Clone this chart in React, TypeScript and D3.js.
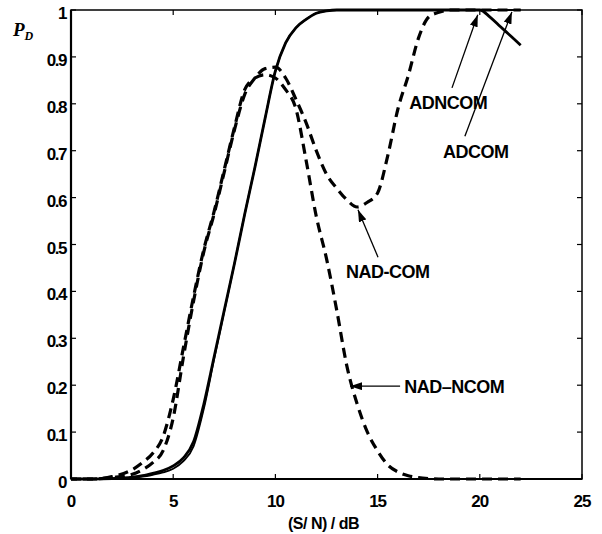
import React from "react";
import * as d3 from "d3";

// S/N in dB
const snr = [0, 1, 2, 3, 3.5, 4, 4.5, 5, 5.5, 6, 6.5, 7, 7.5, 8, 8.5, 9, 9.5, 10, 10.5, 11, 11.5, 12, 12.5, 13, 13.5, 14, 14.5, 15, 15.5, 16, 16.5, 17, 17.5, 18, 18.5, 19, 19.5, 20, 20.5, 21, 21.5, 22];

const adNcom = [0, 0, 0.001, 0.004, 0.007, 0.012, 0.018, 0.028, 0.045, 0.08, 0.16, 0.26, 0.36, 0.46, 0.565, 0.665, 0.77, 0.87, 0.93, 0.962, 0.98, 0.993, 0.998, 1, 1, 1, 1, 1, 1, 1, 1, 1, 1, 1, 1, 1, 1, 1, 0.985, 0.965, 0.945, 0.925];
const adCom = [0, 0, 0.001, 0.003, 0.005, 0.009, 0.014, 0.022, 0.038, 0.07, 0.15, 0.255, 0.358, 0.46, 0.565, 0.665, 0.77, 0.87, 0.93, 0.962, 0.98, 0.993, 0.998, 1, 1, 1, 1, 1, 1, 1, 1, 1, 1, 1, 1, 1, 1, 1, 1, 1, 1, 1];
const nadNcom = [0, 0, 0.005, 0.02, 0.035, 0.055, 0.09, 0.17, 0.28, 0.39, 0.49, 0.57, 0.66, 0.75, 0.83, 0.855, 0.862, 0.855, 0.83, 0.79, 0.68, 0.56, 0.47, 0.36, 0.24, 0.16, 0.1, 0.06, 0.03, 0.015, 0.007, 0.003, 0.001, 0, 0, 0, 0, 0, 0, 0, 0, 0];
const nadCom = [0, 0, 0.003, 0.01, 0.02, 0.035, 0.06, 0.13, 0.26, 0.38, 0.485, 0.565, 0.655, 0.745, 0.82, 0.855, 0.875, 0.878, 0.855, 0.81, 0.76, 0.7, 0.65, 0.62, 0.595, 0.58, 0.59, 0.61, 0.69, 0.79, 0.86, 0.94, 0.985, 0.995, 1, 1, 1, 1, 1, 1, 1, 1];

const xTicks = [0, 5, 10, 15, 20, 25];
const yTicks = [0, 0.1, 0.2, 0.3, 0.4, 0.5, 0.6, 0.7, 0.8, 0.9, 1];

// annotation text and arrows, in data units: [label, textX, textY, tailX, tailY, headX, headY]
const notes: [string, number, number, number, number, number, number][] = [
  ["ADNCOM", 16.55, 0.788, 18.64, 0.834, 19.9, 0.99],
  ["ADCOM", 18.2, 0.684, 19.27, 0.731, 21.57, 0.996],
  ["NAD-COM", 13.45, 0.428, 15.02, 0.473, 14.04, 0.574],
  ["NAD\u2013NCOM", 16.3, 0.183, 16.1, 0.198, 13.65, 0.198],
];

const W = 602;
const H = 534;
const left = 71;
const right = 582;
const top = 10;
const bottom = 479;

export default function App() {
  const x = d3.scaleLinear().domain([0, 25]).range([left, right]);
  const y = d3.scaleLinear().domain([0, 1]).range([bottom, top]);

  const line = d3
    .line<number>()
    .x((d, i) => x(snr[i]))
    .y((d) => y(d))
    .curve(d3.curveMonotoneX);

  const font = "'Liberation Sans', Arial, sans-serif";

  return (
    <svg
      width={W}
      height={H}
      style={{ position: "absolute", left: 0, top: 0, background: "#fff" }}
    >
      <defs>
        <marker
          id="arr"
          viewBox="0 0 12 8"
          refX="12"
          refY="4"
          markerWidth="12"
          markerHeight="8"
          markerUnits="userSpaceOnUse"
          orient="auto"
        >
          <path d="M0,0 L12,4 L0,8 z" fill="#000" />
        </marker>
      </defs>

      {/* curves */}
      <path d={line(adCom) ?? ""} fill="none" stroke="#000" strokeWidth={1.8} />
      <path d={line(adNcom) ?? ""} fill="none" stroke="#000" strokeWidth={2.8} />
      <path
        d={line(nadNcom) ?? ""}
        fill="none"
        stroke="#000"
        strokeWidth={3.2}
        strokeDasharray="10 6"
      />
      <path
        d={line(nadCom) ?? ""}
        fill="none"
        stroke="#000"
        strokeWidth={3.2}
        strokeDasharray="10 6"
        strokeDashoffset={4}
      />

      {/* frame */}
      <rect
        x={left}
        y={top}
        width={right - left}
        height={bottom - top}
        fill="none"
        stroke="#000"
        strokeWidth={1.5}
      />
      <line x1={left} y1={top} x2={left} y2={bottom} stroke="#000" strokeWidth={2.2} />
      <line x1={left} y1={bottom} x2={right} y2={bottom} stroke="#000" strokeWidth={2.2} />

      {/* ticks */}
      {xTicks.map((t) => (
        <g key={"x" + t}>
          <line x1={x(t)} x2={x(t)} y1={bottom} y2={bottom - 5} stroke="#000" strokeWidth={1.2} />
          <line x1={x(t)} x2={x(t)} y1={top} y2={top + 5} stroke="#000" strokeWidth={1.2} />
          <text
            x={x(t)}
            y={bottom + 28}
            textAnchor="middle"
            fontFamily={font}
            fontWeight="bold"
            fontSize={17}
            letterSpacing={-1}
          >
            {t}
          </text>
        </g>
      ))}
      {yTicks.map((t) => (
        <g key={"y" + t}>
          <line x1={left} x2={left + 5} y1={y(t)} y2={y(t)} stroke="#000" strokeWidth={1.2} />
          <line x1={right} x2={right - 5} y1={y(t)} y2={y(t)} stroke="#000" strokeWidth={1.2} />
          <text
            x={left - 5}
            y={y(t) + 9}
            textAnchor="end"
            fontFamily={font}
            fontWeight="bold"
            fontSize={17}
            letterSpacing={-1.5}
          >
            {t === 0 || t === 1 ? String(t) : t.toFixed(1)}
          </text>
        </g>
      ))}

      {/* axis titles */}
      <text
        x={(left + right) / 2 - 3}
        y={529}
        textAnchor="middle"
        fontFamily={font}
        fontWeight="bold"
        fontSize={16}
        letterSpacing={-0.5}
        style={{ whiteSpace: "pre" }}
      >
        (S/ N) / dB
      </text>
      <text
        x={13}
        y={36}
        fontFamily="'Liberation Serif', 'Times New Roman', serif"
        fontStyle="italic"
        fontWeight="bold"
        fontSize={19}
      >
        P
        <tspan fontSize={12} dy={4}>
          D
        </tspan>
      </text>

      {/* annotations */}
      {notes.map(([label, tx, ty, ax, ay, hx, hy]) => (
        <g key={label}>
          <line
            x1={x(ax)}
            y1={y(ay)}
            x2={x(hx)}
            y2={y(hy)}
            stroke="#000"
            strokeWidth={1.3}
            markerEnd="url(#arr)"
          />
          <text
            x={x(tx)}
            y={y(ty)}
            fontFamily={font}
            fontWeight="bold"
            fontSize={18}
            letterSpacing={-0.5}
          >
            {label}
          </text>
        </g>
      ))}
    </svg>
  );
}
